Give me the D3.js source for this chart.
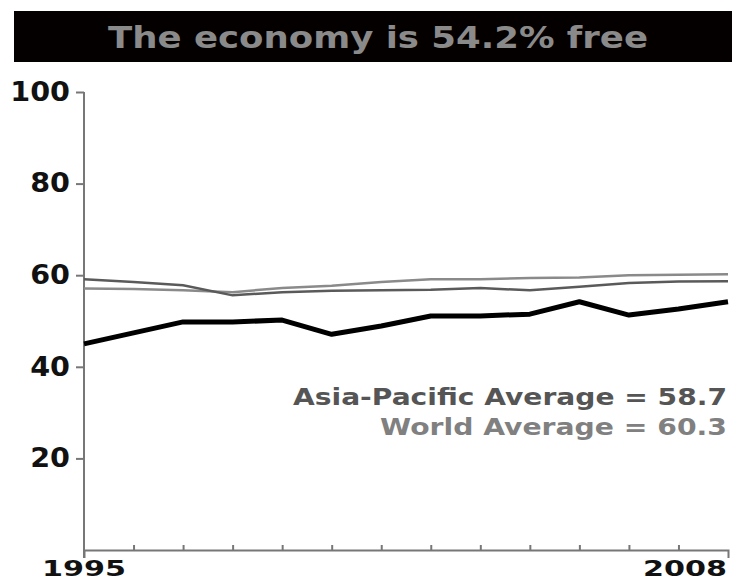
<!DOCTYPE html>
<html>
<head>
<meta charset="utf-8">
<script src="https://cdn.jsdelivr.net/npm/d3@7"></script>
<style>
  body { margin: 0; background: #fff; }
  text { font-family: "DejaVu Sans", sans-serif; font-weight: bold; }
</style>
</head>
<body>
<script>
var years = [1995, 1996, 1997, 1998, 1999, 2000, 2001, 2002, 2003, 2004, 2005, 2006, 2007, 2008];
var country = [45.0, 47.4, 49.8, 49.8, 50.2, 47.1, 48.9, 51.1, 51.1, 51.5, 54.2, 51.3, 52.6, 54.2];
var asiaPacific = [59.1, 58.5, 57.8, 55.6, 56.3, 56.6, 56.7, 56.8, 57.2, 56.7, 57.5, 58.3, 58.6, 58.7];
var world = [57.1, 57.0, 56.7, 56.3, 57.2, 57.7, 58.5, 59.1, 59.1, 59.4, 59.5, 60.0, 60.1, 60.2];
var yTicks = [20, 40, 60, 80, 100];
var title = "The economy is 54.2% free";
var legend = ["Asia-Pacific Average = 58.7", "World Average = 60.3"];

var width = 732, height = 582;

var svg = d3.select("body")
            .append("svg")
            .attr("width", width)
            .attr("height", height);

// title bar
svg.append("rect")
   .attr("x", 14).attr("y", 11)
   .attr("width", width - 14).attr("height", 51)
   .attr("fill", "#050000");

svg.append("text")
   .attr("x", 108).attr("y", 48)
   .attr("textLength", 540)
   .attr("lengthAdjust", "spacingAndGlyphs")
   .attr("font-size", "30px")
   .attr("fill", "#8a8a8a")
   .text(title);

var x = d3.scaleLinear().domain([1995, 2008]).range([84, 728]);
var y = d3.scaleLinear().domain([0, 100]).range([550, 92]);

// y axis
var yAxis = svg.append("g")
   .attr("transform", "translate(84,0)")
   .call(d3.axisLeft(y).tickValues(yTicks).tickSize(8).tickPadding(6).tickSizeOuter(0));
yAxis.select(".domain").remove();
yAxis.selectAll("line").attr("stroke", "#777").attr("stroke-width", 2);
yAxis.selectAll("text")
   .attr("font-size", "26px")
   .attr("font-family", "DejaVu Sans")
   .attr("font-weight", "bold")
   .attr("fill", "#111")
   .attr("transform", "scale(1.1,1)")
   .attr("x", -14 / 1.1);

svg.append("line")
   .attr("x1", 84).attr("x2", 84)
   .attr("y1", y(100)).attr("y2", y(0) + 8)
   .attr("stroke", "#777").attr("stroke-width", 2);

// x axis
var xAxis = svg.append("g")
   .attr("transform", "translate(0," + y(0) + ")")
   .call(d3.axisBottom(x).tickValues(years.slice(1, -1))
     .tickSizeInner(-5).tickSizeOuter(8).tickFormat(""));
xAxis.selectAll("line, path").attr("stroke", "#777").attr("stroke-width", 2);

svg.selectAll(".xlabel")
   .data([1995, 2008])
   .enter().append("text")
   .attr("class", "xlabel")
   .attr("x", function(d) { return d === 1995 ? x(d) : x(d) - 1; })
   .attr("y", 576)
   .attr("text-anchor", function(d) { return d === 1995 ? "middle" : "end"; })
   .attr("textLength", 84)
   .attr("lengthAdjust", "spacingAndGlyphs")
   .attr("font-size", "22px")
   .attr("fill", "#111")
   .text(function(d) { return d; });

// lines
var line = d3.line()
   .x(function(d, i) { return x(years[i]); })
   .y(function(d) { return y(d); });

svg.append("path").datum(world)
   .attr("d", line).attr("fill", "none")
   .attr("stroke", "#8a8a8a").attr("stroke-width", 2.5);

svg.append("path").datum(asiaPacific)
   .attr("d", line).attr("fill", "none")
   .attr("stroke", "#5a5a5a").attr("stroke-width", 2.5);

svg.append("path").datum(country)
   .attr("d", line).attr("fill", "none")
   .attr("stroke", "#000").attr("stroke-width", 5)
   .attr("stroke-linejoin", "round");

// legend
svg.append("text")
   .attr("x", 727).attr("y", 405)
   .attr("text-anchor", "end")
   .attr("textLength", 434)
   .attr("lengthAdjust", "spacingAndGlyphs")
   .attr("font-size", "23px")
   .attr("fill", "#555")
   .text(legend[0]);

svg.append("text")
   .attr("x", 727).attr("y", 435)
   .attr("text-anchor", "end")
   .attr("textLength", 347)
   .attr("lengthAdjust", "spacingAndGlyphs")
   .attr("font-size", "23px")
   .attr("fill", "#808080")
   .text(legend[1]);
</script>
</body>
</html>
